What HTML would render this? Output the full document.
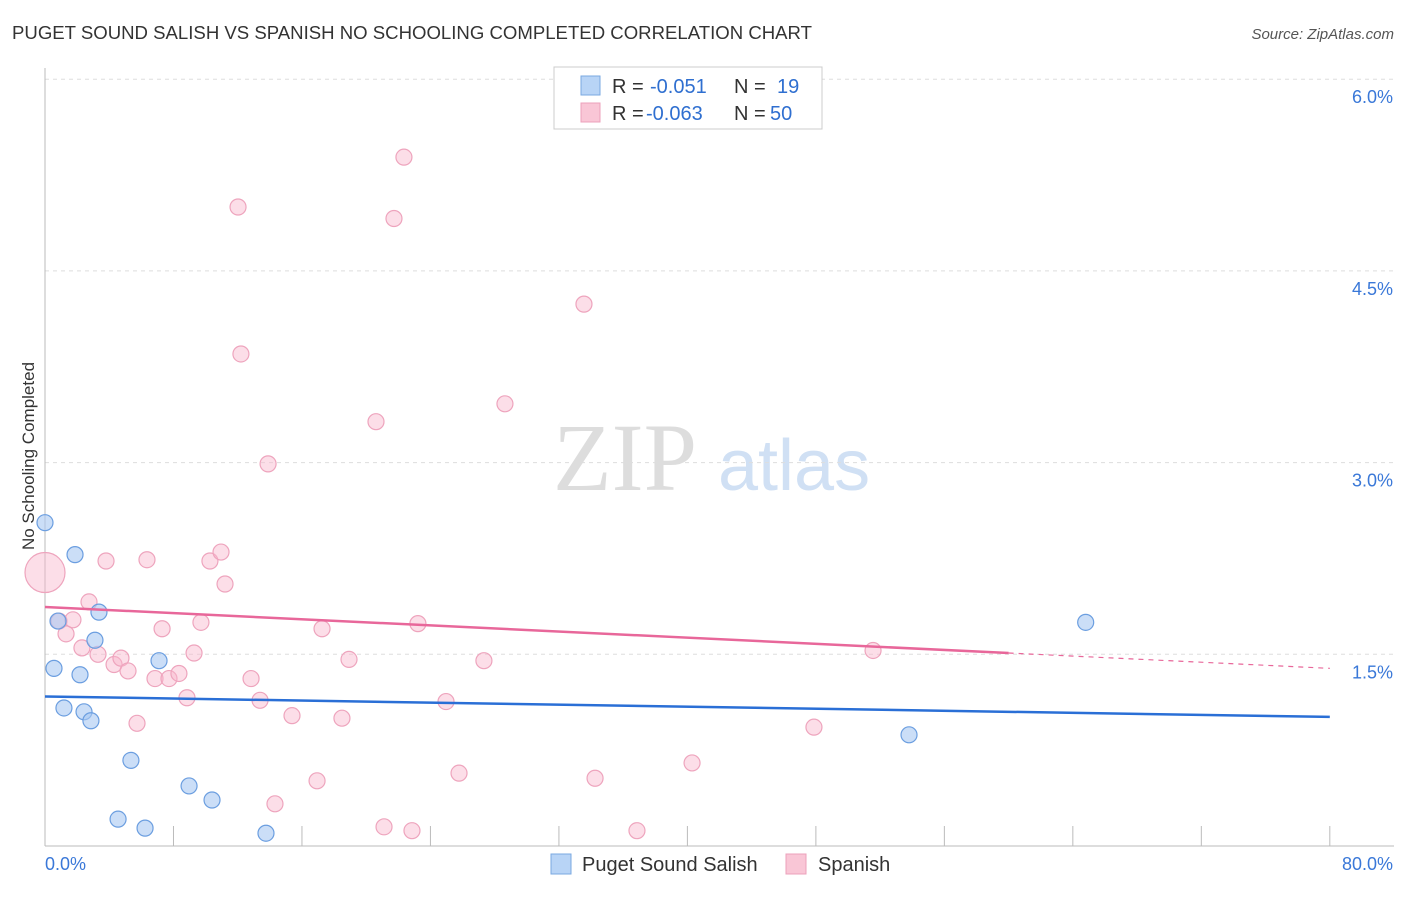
<!DOCTYPE html>
<html><head><meta charset="utf-8"><style>
body{margin:0;background:#fff;font-family:"Liberation Sans",sans-serif;}
</style></head><body>
<svg id="chart" width="1406" height="892" xmlns="http://www.w3.org/2000/svg" font-family="Liberation Sans, sans-serif">
<text x="12" y="39" font-size="18" fill="#333" textLength="800" lengthAdjust="spacingAndGlyphs">PUGET SOUND SALISH VS SPANISH NO SCHOOLING COMPLETED CORRELATION CHART</text>
<text x="1394" y="39" font-size="15" fill="#555" text-anchor="end" font-style="italic">Source: ZipAtlas.com</text>
<text transform="translate(34,456) rotate(-90)" font-size="17" fill="#333" text-anchor="middle">No Schooling Completed</text>
<g><text x="553" y="490" font-size="96" fill="#ddd" font-family="Liberation Serif, serif">ZIP</text><text x="718" y="490" font-size="72" fill="#d0e0f4">atlas</text></g>
<g id="grid"></g><g id="marks"></g>
<g>
<rect x="554" y="67" width="268" height="62" fill="#fff" stroke="#ccc"/>
<rect x="581" y="76" width="19" height="19" fill="#b8d4f6" stroke="#7aa8e0"/>
<rect x="581" y="103" width="19" height="19" fill="#f9c6d6" stroke="#eca0bb"/>
<text x="612" y="93" font-size="20" fill="#333">R =</text>
<text x="650" y="93" font-size="20" fill="#2f6fd0">-0.051</text>
<text x="734" y="93" font-size="20" fill="#333">N =</text>
<text x="777" y="93" font-size="20" fill="#2f6fd0">19</text>
<text x="612" y="120" font-size="20" fill="#333">R =</text>
<text x="646" y="120" font-size="20" fill="#2f6fd0">-0.063</text>
<text x="734" y="120" font-size="20" fill="#333">N =</text>
<text x="770" y="120" font-size="20" fill="#2f6fd0">50</text>
</g>
<g>
<rect x="551" y="854" width="20" height="20" fill="#b8d4f6" stroke="#7aa8e0"/>
<text x="582" y="871" font-size="20" fill="#333">Puget Sound Salish</text>
<rect x="786" y="854" width="20" height="20" fill="#f9c6d6" stroke="#eca0bb"/>
<text x="818" y="871" font-size="20" fill="#333">Spanish</text>
</g>
</svg>
<script>
const yTicks=[1.5,3.0,4.5,6.0];
const yTickLabels=["1.5%","3.0%","4.5%","6.0%"];
const blueX=[0,1.87,3.36,0.81,3.11,0.56,2.18,7.10,1.18,2.43,2.86,5.35,8.97,10.4,4.55,6.23,13.76,64.8,53.8];
const blueY=[2.53,2.28,1.83,1.76,1.61,1.39,1.34,1.45,1.08,1.05,0.98,0.67,0.47,0.36,0.21,0.14,0.10,1.75,0.87];
const pinkX=[0,0.87,1.31,1.74,2.74,3.80,6.35,2.30,3.30,4.30,4.73,5.17,5.73,7.29,6.85,7.72,8.34,8.84,9.28,9.71,10.27,10.96,11.21,12.02,12.20,12.83,13.39,13.89,15.38,14.32,16.94,17.25,18.49,18.93,20.61,21.11,21.73,22.35,22.85,23.22,24.97,25.78,27.33,28.64,33.56,34.25,36.86,40.29,47.88,51.56];
const pinkY=[2.14,1.76,1.66,1.77,1.91,2.23,2.24,1.55,1.50,1.42,1.47,1.37,0.96,1.70,1.31,1.31,1.35,1.16,1.51,1.75,2.23,2.30,2.05,5.00,3.85,1.31,1.14,2.99,1.02,0.33,0.51,1.70,1.00,1.46,3.32,0.15,4.91,5.39,0.12,1.74,1.13,0.57,1.45,3.46,4.24,0.53,0.12,0.65,0.93,1.53];
const blueTrend=[1.17,1.01], pinkTrend=[1.87,1.39], xMax=80;
const X=v=>45+v*16.06, Y=v=>846-v*127.8;
const NS="http://www.w3.org/2000/svg";
function mk(t,a,p){const e=document.createElementNS(NS,t);for(const k in a)e.setAttribute(k,a[k]);p.appendChild(e);return e;}
const g=document.getElementById('grid'),m=document.getElementById('marks');
yTicks.forEach((t,i)=>{
 const l=mk('line',{x1:45,x2:1394,y1:Y(t),y2:Y(t),stroke:'#ddd','stroke-dasharray':'4,4'},g);
 
 
 const tx=mk('text',{x:1393,y:Y(t)+24,'font-size':18,fill:'#3a78d8','text-anchor':'end'},g);tx.textContent=yTickLabels[i];
 
 
});
mk('line',{x1:45,x2:45,y1:68,y2:846,stroke:'#bbb'},g);
mk('line',{x1:45,x2:1394,y1:846,y2:846,stroke:'#bbb'},g);
for(let i=0;i<=10;i++){const t=mk('line',{x1:X(i*8),x2:X(i*8),y1:826,y2:846,stroke:'#bbb'},g);
 
 }
let t0=mk('text',{x:45,y:870,'font-size':18,fill:'#3a78d8'},g);t0.textContent="0.0%";


let t1=mk('text',{x:1393,y:870,'font-size':18,fill:'#3a78d8','text-anchor':'end'},g);t1.textContent="80.0%";


pinkX.forEach((v,i)=>{const c=mk('circle',{cx:X(v),cy:Y(pinkY[i]),r:i==0?20:8,fill:'rgba(248,182,204,0.45)',stroke:'#eea4bd','stroke-width':1.2},m);
 
 });
blueX.forEach((v,i)=>{const c=mk('circle',{cx:X(v),cy:Y(blueY[i]),r:8,fill:'rgba(168,200,242,0.6)',stroke:'#6b9ee0','stroke-width':1.2},m);
 
 });
const by=v=>blueTrend[0]+(blueTrend[1]-blueTrend[0])*v/xMax, py=v=>pinkTrend[0]+(pinkTrend[1]-pinkTrend[0])*v/xMax;
let bl=mk('line',{x1:X(0),y1:Y(by(0)),x2:X(80),y2:Y(by(80)),stroke:'#2a6fd6','stroke-width':2.5},m);


let pl=mk('line',{x1:X(0),y1:Y(py(0)),x2:X(60),y2:Y(py(60)),stroke:'#e8679a','stroke-width':2.5},m);


let pd=mk('line',{x1:X(60),y1:Y(py(60)),x2:X(80),y2:Y(py(80)),stroke:'#e8679a','stroke-width':1.2,'stroke-dasharray':'5,5'},m);


</script>
</body></html>
